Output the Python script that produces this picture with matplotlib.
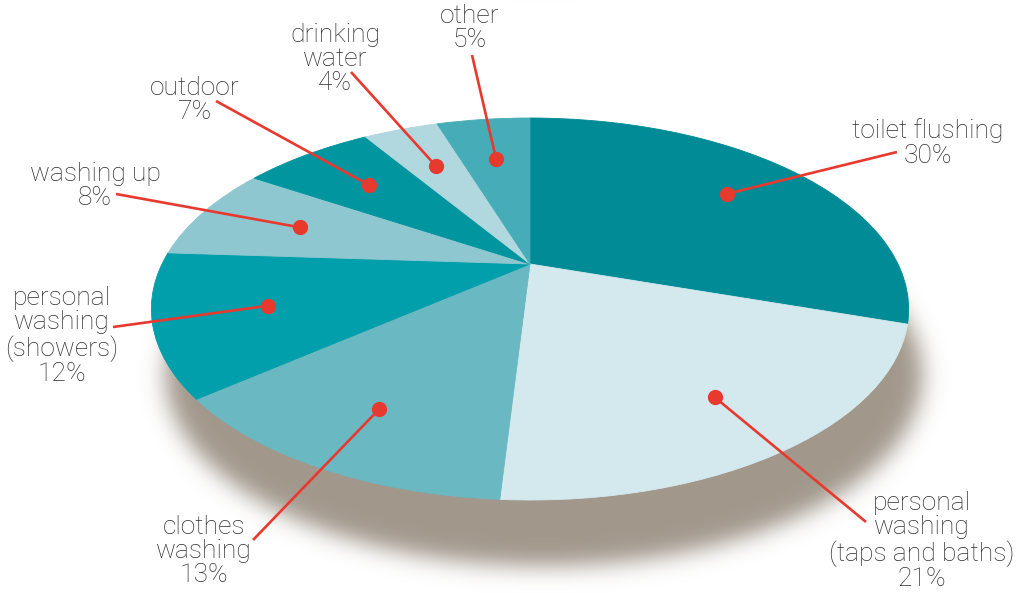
import numpy as np
import matplotlib
matplotlib.use('Agg')
import matplotlib.pyplot as plt
import matplotlib.transforms as mtransforms

# Household water use shares
labels = ['toilet flushing', 'personal\nwashing\n(taps and baths)', 'clothes\nwashing',
          'personal\nwashing\n(showers)', 'washing up', 'outdoor', 'drinking\nwater', 'other']
shares = [30, 21, 13, 12, 8, 7, 4, 5]
colors = ['#008b96', '#d4e9ee', '#6ab8c2', '#009fab', '#8fc7d1', '#00959f', '#b2d8df', '#45acb8']

# label layout in pixels: text centre, start of the leader line, dot distance from centre
text_pos = [(928, 143), (922, 541), (204, 551), (62, 336), (95, 186), (195, 100), (335, 59), (470, 28)]
line_start = [(897, 152), (866, 522), (253, 540), (113, 327), (116, 194), (216, 101), (351, 72), (472, 55)]
dot_r = [0.73, 0.76, 0.76, 0.71, 0.69, 0.69, 0.69, 0.68]

RED = '#e8392f'
TEXT = '#2e2e2e'

# tilted (perspective) view of the unit circle, output in pixels
CX, CY = 530, 264
RX, RY, K = 368, 180.4, 0.2356


class Tilt(mtransforms.Transform):
    input_dims = 2
    output_dims = 2
    is_separable = False

    def __init__(self, cx, cy):
        super().__init__()
        self.cx, self.cy = cx, cy

    def transform_non_affine(self, values):
        v = np.asarray(values, dtype=float)
        d = 1 + K * v[:, 1]
        return np.column_stack([self.cx + RX * v[:, 0] / d, self.cy - RY * v[:, 1] / d])


fig = plt.figure(figsize=(10.28, 5.93), dpi=100)
ax = fig.add_axes([0, 0, 1, 1])

# soft shadow: the same tilted disc moved down and blurred
SX, SY, sigma = 14, 66, 11
xs = np.arange(1028) + 0.5
ys = np.arange(593) + 0.5
X, Y = np.meshgrid(xs, ys)
yu = (CY + SY) - Y
vv = yu / (RY - K * yu)
uu = (X - (CX + SX)) * (1 + K * vv) / RX
mask = ((uu ** 2 + vv ** 2) <= 1).astype(float)
fy = np.fft.fftfreq(mask.shape[0])
fx = np.fft.rfftfreq(mask.shape[1])
g = np.exp(-2 * (np.pi * sigma) ** 2 * (fy[:, None] ** 2 + fx[None, :] ** 2))
blur = np.clip(np.fft.irfft2(np.fft.rfft2(mask) * g, s=mask.shape), 0, 1)
shadow = np.zeros(mask.shape + (4,))
shadow[..., :3] = matplotlib.colors.to_rgb('#a1978b')
shadow[..., 3] = blur
ax.imshow(shadow, extent=(0, 1028, 593, 0), interpolation='bilinear', zorder=0)

tilt = Tilt(CX, CY)
wedges, _ = ax.pie(shares, colors=colors, startangle=90, counterclock=False,
                   wedgeprops=dict(linewidth=0.6))
for w in wedges:
    w.set_edgecolor(w.get_facecolor())
    w.set_transform(tilt + ax.transData)
    w.set_zorder(2)

# leader lines, dots and labels
cum = np.cumsum(shares) - np.array(shares) / 2
for i, lab in enumerate(labels):
    ang = np.deg2rad(90 - 360 * cum[i] / sum(shares))
    px, py = tilt.transform([[dot_r[i] * np.cos(ang), dot_r[i] * np.sin(ang)]])[0]
    sx, sy = line_start[i]
    ax.plot([sx, px], [sy, py], color=RED, lw=1.9, zorder=3, solid_capstyle='butt')
    ax.plot(px, py, 'o', color=RED, ms=11, mec='none', zorder=4)
    ax.text(text_pos[i][0], text_pos[i][1], f'{lab}\n{shares[i]}%', ha='center', va='center',
            multialignment='center', fontsize=19, family='Roboto', fontweight='light',
            color=TEXT, linespacing=1.02, zorder=5)

ax.set_aspect('auto')
ax.set_xlim(0, 1028)
ax.set_ylim(593, 0)
ax.axis('off')

plt.savefig('out.png', dpi=100)
plt.close()
